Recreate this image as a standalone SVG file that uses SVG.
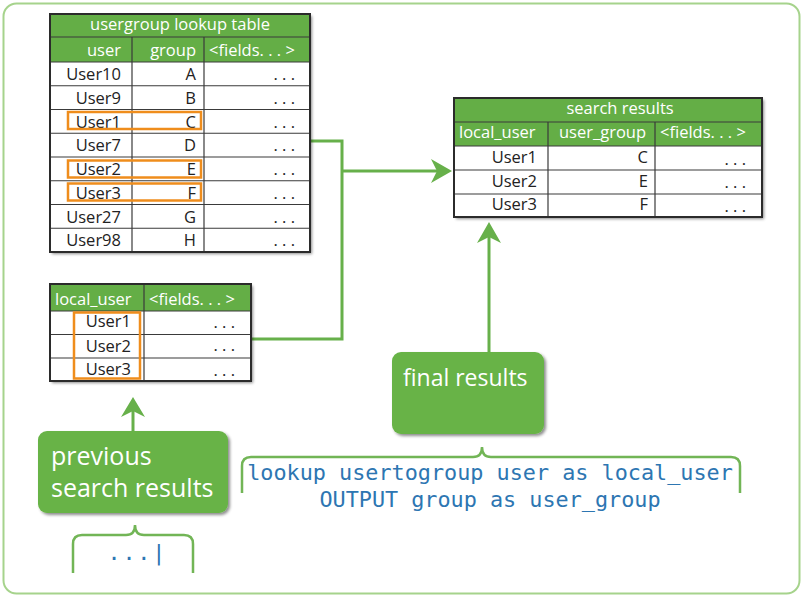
<svg xmlns="http://www.w3.org/2000/svg" width="804" height="597" viewBox="0 0 804 597">
<defs>
<filter id="sh" x="-5%" y="-5%" width="115%" height="115%">
<feDropShadow dx="2" dy="2" stdDeviation="1.5" flood-color="#000" flood-opacity="0.45"/>
</filter>
<style>
.t{font-family:"Open Sans","Noto Sans",sans-serif;font-size:16.5px;fill:#222}
.h{font-family:"Open Sans","Noto Sans",sans-serif;font-size:16.5px;fill:#fff}
.e{text-anchor:end}
.m{text-anchor:middle}
.hdr{fill:#64ae46}
.cell{fill:#fff}
.bd{fill:none;stroke:#2b2b2b;stroke-width:2}
.ln{stroke:#3a3a3a;stroke-width:1.2}
.hl{fill:none;stroke:#ef8d1c;stroke-width:2.5}
.con{fill:none;stroke:#67b04a;stroke-width:3}
.ah{fill:#67b04a}
.box{fill:#67b346}
.bt{font-family:"Open Sans","Noto Sans",sans-serif;font-size:24px;fill:#fff}
.br{fill:none;stroke:#72b556;stroke-width:2.5}
.code{font-family:"DejaVu Sans Mono","Liberation Mono",monospace;font-size:21.8px;fill:#2d76b2}
</style>
</defs>
<rect x="3.5" y="3.5" width="796" height="590" rx="13" fill="#fff" stroke="#a6d38c" stroke-width="2"/>

<g id="connectors">
<path class="con" d="M310,141 H342 V339 H252"/>
<path class="con" d="M342,171 H440"/>
<path class="ah" d="M452,171 L431,159 L437,171 L431,183 Z"/>
<path class="con" d="M489,354 V234"/>
<path class="ah" d="M489,222 L477,243 L489,237 L501,243 Z"/>
<path class="con" d="M133,442 V408"/>
<path class="ah" d="M133,397 L121,417 L133,411 L145,417 Z"/>
</g>

<g id="lookup-table">
<g filter="url(#sh)">
<rect x="50" y="14" width="260" height="238" class="cell"/>
</g>
<rect x="50" y="14" width="260" height="48" class="hdr"/>
<g class="ln">
<line x1="50" y1="37" x2="310" y2="37"/>
<line x1="50" y1="62" x2="310" y2="62"/>
<line x1="50" y1="85.75" x2="310" y2="85.75"/>
<line x1="50" y1="109.5" x2="310" y2="109.5"/>
<line x1="50" y1="133.25" x2="310" y2="133.25"/>
<line x1="50" y1="157" x2="310" y2="157"/>
<line x1="50" y1="180.75" x2="310" y2="180.75"/>
<line x1="50" y1="204.5" x2="310" y2="204.5"/>
<line x1="50" y1="228.25" x2="310" y2="228.25"/>
<line x1="132" y1="37" x2="132" y2="252"/>
<line x1="204" y1="37" x2="204" y2="252"/>
</g>
<rect x="50" y="14" width="260" height="238" class="bd"/>
<text class="h m" x="180" y="30">usergroup lookup table</text>
<text class="h e" x="121" y="56">user</text>
<text class="h e" x="196" y="56">group</text>
<text class="h" x="209" y="56">&lt;fields. . . &gt;</text>
<text class="t e" x="121" y="80">User10</text><text class="t e" x="196" y="80">A</text><text class="t e" x="295" y="80">. . .</text>
<text class="t e" x="121" y="103.75">User9</text><text class="t e" x="196" y="103.75">B</text><text class="t e" x="295" y="103.75">. . .</text>
<text class="t e" x="121" y="127.5">User1</text><text class="t e" x="196" y="127.5">C</text><text class="t e" x="295" y="127.5">. . .</text>
<text class="t e" x="121" y="151.25">User7</text><text class="t e" x="196" y="151.25">D</text><text class="t e" x="295" y="151.25">. . .</text>
<text class="t e" x="121" y="175">User2</text><text class="t e" x="196" y="175">E</text><text class="t e" x="295" y="175">. . .</text>
<text class="t e" x="121" y="198.75">User3</text><text class="t e" x="196" y="198.75">F</text><text class="t e" x="295" y="198.75">. . .</text>
<text class="t e" x="121" y="222.5">User27</text><text class="t e" x="196" y="222.5">G</text><text class="t e" x="295" y="222.5">. . .</text>
<text class="t e" x="121" y="246.25">User98</text><text class="t e" x="196" y="246.25">H</text><text class="t e" x="295" y="246.25">. . .</text>
<rect class="hl" x="68" y="112" width="133" height="17"/>
<rect class="hl" x="68" y="160.5" width="133" height="17"/>
<rect class="hl" x="68" y="183.5" width="133" height="17"/>
</g>

<g id="local-table">
<g filter="url(#sh)">
<rect x="50" y="284" width="201" height="97" class="cell"/>
</g>
<rect x="50" y="284" width="201" height="27" class="hdr"/>
<g class="ln">
<line x1="50" y1="311" x2="251" y2="311"/>
<line x1="50" y1="334.5" x2="251" y2="334.5"/>
<line x1="50" y1="358" x2="251" y2="358"/>
<line x1="144" y1="284" x2="144" y2="381"/>
</g>
<rect x="50" y="284" width="201" height="97" class="bd"/>
<text class="h" x="55" y="305">local_user</text>
<text class="h" x="149" y="305">&lt;fields. . . &gt;</text>
<text class="t e" x="131" y="327">User1</text><text class="t e" x="235" y="328">. . .</text>
<text class="t e" x="131" y="352">User2</text><text class="t e" x="235" y="351">. . .</text>
<text class="t e" x="131" y="375">User3</text><text class="t e" x="235" y="376">. . .</text>
<rect class="hl" x="74" y="312.5" width="66" height="66"/>
</g>

<g id="search-results">
<g filter="url(#sh)">
<rect x="454" y="98" width="308" height="119" class="cell"/>
</g>
<rect x="454" y="98" width="308" height="48" class="hdr"/>
<g class="ln">
<line x1="454" y1="122" x2="762" y2="122"/>
<line x1="454" y1="146" x2="762" y2="146"/>
<line x1="454" y1="170" x2="762" y2="170"/>
<line x1="454" y1="194" x2="762" y2="194"/>
<line x1="548" y1="122" x2="548" y2="217"/>
<line x1="655" y1="122" x2="655" y2="217"/>
</g>
<rect x="454" y="98" width="308" height="119" class="bd"/>
<text class="h m" x="620" y="114">search results</text>
<text class="h" x="459" y="138">local_user</text>
<text class="h" x="559" y="138">user_group</text>
<text class="h" x="660" y="138">&lt;fields. . . &gt;</text>
<text class="t e" x="537" y="163">User1</text><text class="t e" x="648" y="163">C</text><text class="t e" x="746" y="165">. . .</text>
<text class="t e" x="537" y="187">User2</text><text class="t e" x="648" y="187">E</text><text class="t e" x="746" y="188">. . .</text>
<text class="t e" x="537" y="210">User3</text><text class="t e" x="648" y="210">F</text><text class="t e" x="746" y="212">. . .</text>
</g>

<g id="final-results">
<rect class="box" x="392" y="352" width="152" height="82" rx="9" filter="url(#sh)"/>
<text class="bt" x="403" y="386" style="font-size:23px">final results</text>
</g>

<g id="previous-search-results">
<rect class="box" x="38" y="431" width="190" height="82" rx="9" filter="url(#sh)"/>
<text class="bt" x="51" y="465" style="font-size:25px">previous</text>
<text class="bt" x="51" y="497" style="font-size:25px">search results</text>
</g>

<g id="command">
<path class="br" d="M242,493 V466 Q242,457 251,457 H473 Q482,457 482,447 Q482,457 491,457 H731 Q740,457 740,466 V493"/>
<text class="code m" x="490" y="480">lookup usertogroup user as local_user</text>
<text class="code m" x="490" y="507">OUTPUT group as user_group</text>
</g>

<g id="previous-command">
<path class="br" d="M73,573 V544 Q73,535 82,535 H126 Q135,535 135,525 Q135,535 144,535 H184 Q193,535 193,544 V573"/>
<text class="code" x="107.5" y="560" letter-spacing="1.8">...|</text>
</g>
</svg>
